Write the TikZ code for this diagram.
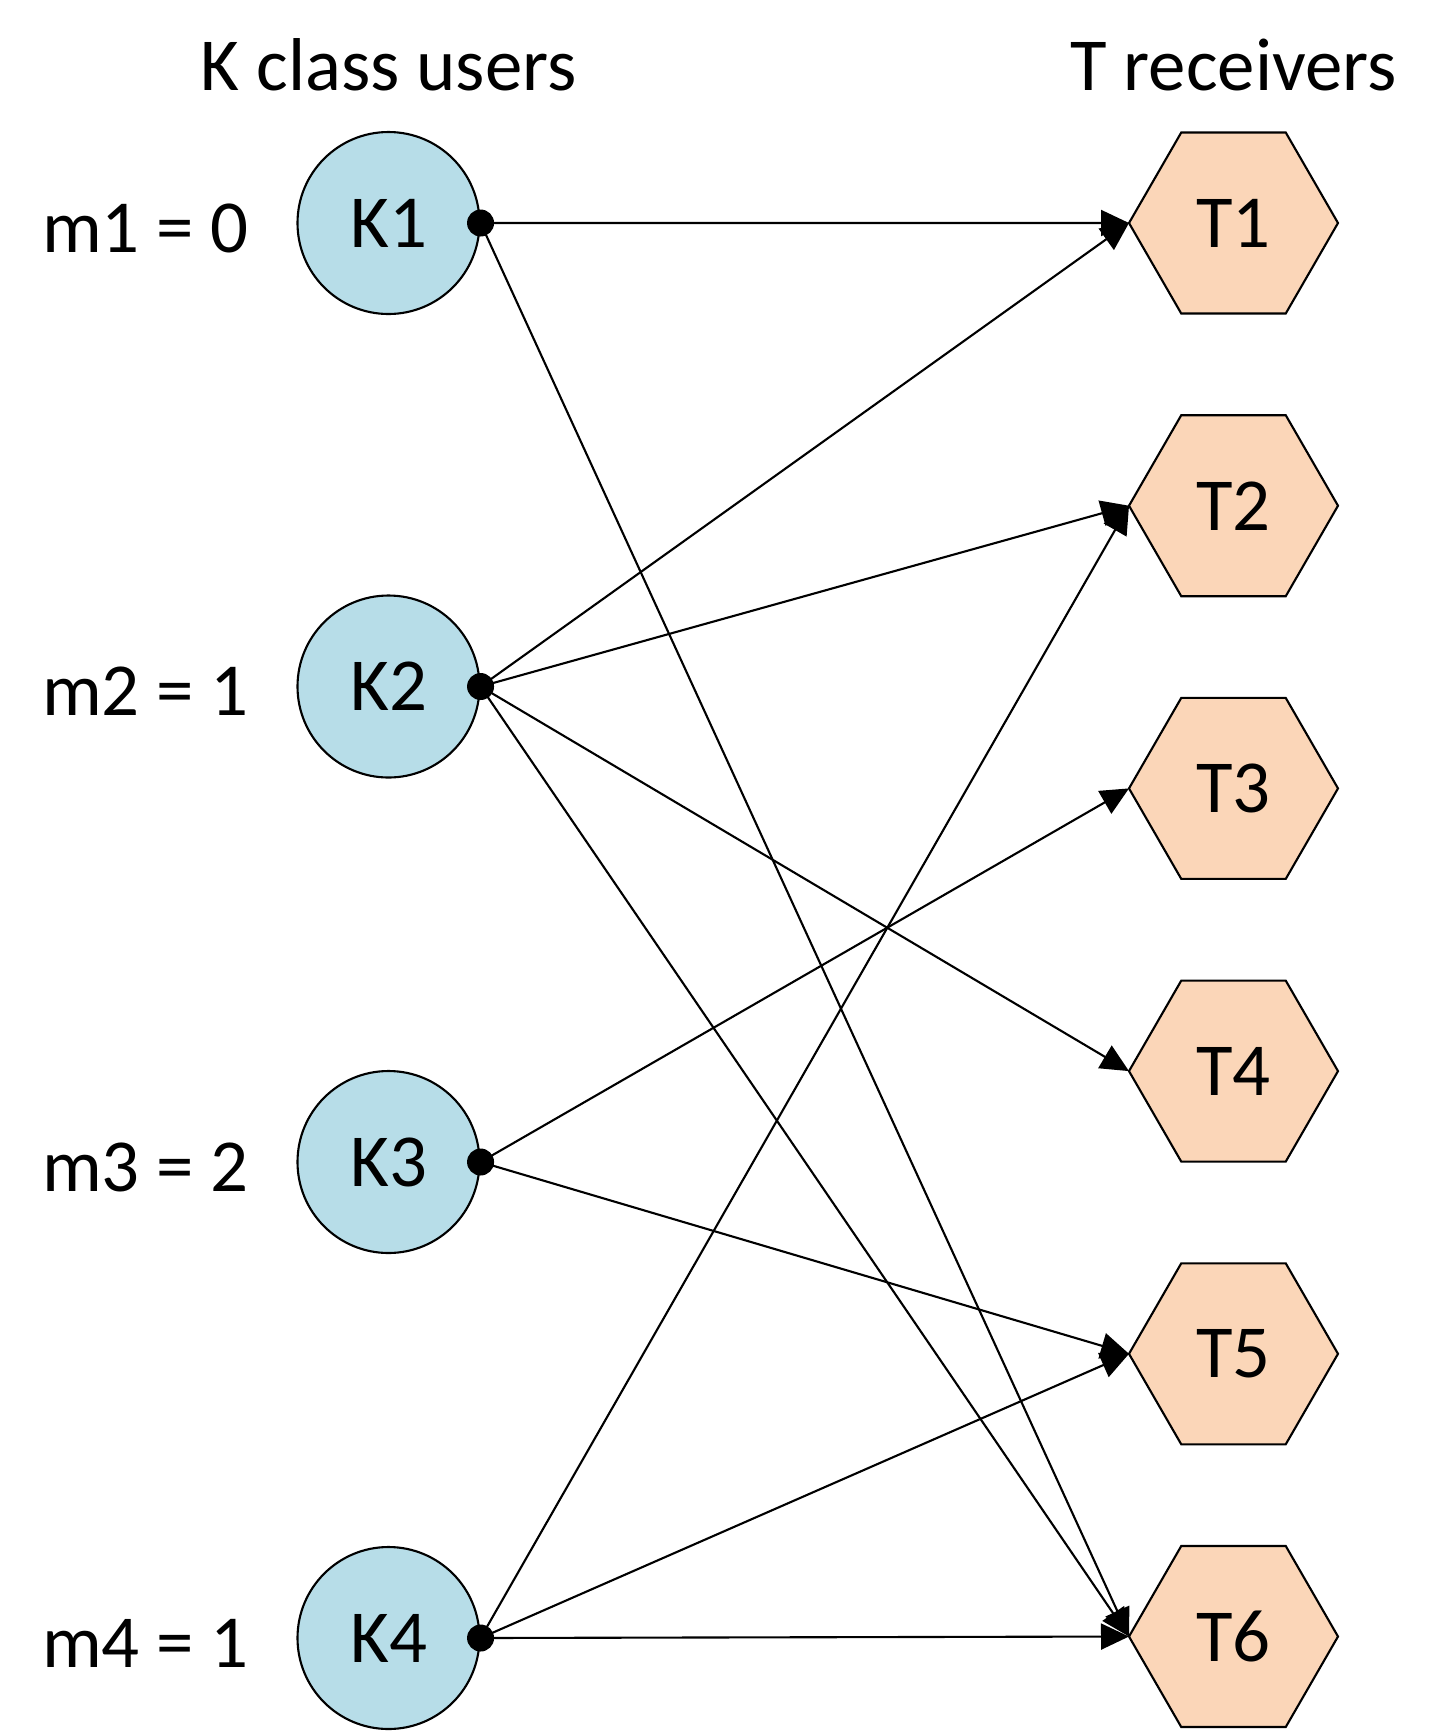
\documentclass[tikz,border=0pt]{standalone}
\usepackage{fontspec}
\setmainfont{Carlito}
\usepackage{tikz}
\usetikzlibrary{positioning,arrows.meta,shapes.geometric}
\definecolor{userbg}{HTML}{B7DDE8}
\definecolor{recvbg}{HTML}{FBD6B8}

\begin{document}
\begin{tikzpicture}[
  font=\fontsize{21.3pt}{25pt}\selectfont,>={Triangle[length=2.8mm,width=2.6mm]},
  line width=0.6pt,
  user/.style={circle,draw,fill=userbg,minimum size=1.82cm,inner sep=0pt},
  recv/.style={regular polygon,regular polygon sides=6,draw,fill=recvbg,minimum size=2.09cm,inner sep=0pt,outer sep=0pt},
  dot/.style={circle,fill=black,minimum size=2.7mm,inner sep=0pt},
]
\useasboundingbox (0,0) rectangle (14.38,-17.31);
\node[anchor=base] (hK) at (3.885,-0.905) {K class users};
\node[anchor=base] (hT) at (12.335,-0.905) {T receivers};
% users with their m values
\foreach \i/\y/\m in {1/2.23/0,2/6.865/1,3/11.62/2,4/16.38/1}{
  \node[user] (K\i) at (3.885,-\y) {K\i};
  \node[anchor=base west,inner sep=0pt] (m\i) at (0.41,-\y-0.29) {m\i{} = \m};
  \node[dot] (d\i) at (K\i.east) {};
}
% receivers
\foreach \j in {1,...,6}{ \node[recv] (T\j) at (12.335,-2.23-2.827*\j+2.827) {T\j}; }
% links
\foreach \a/\b in {1/1,1/6,2/1,2/2,2/4,2/6,3/3,3/5,4/2,4/5,4/6}{
  \draw[->] (d\a.center) -- (T\b.west);
}
\end{tikzpicture}
\end{document}
